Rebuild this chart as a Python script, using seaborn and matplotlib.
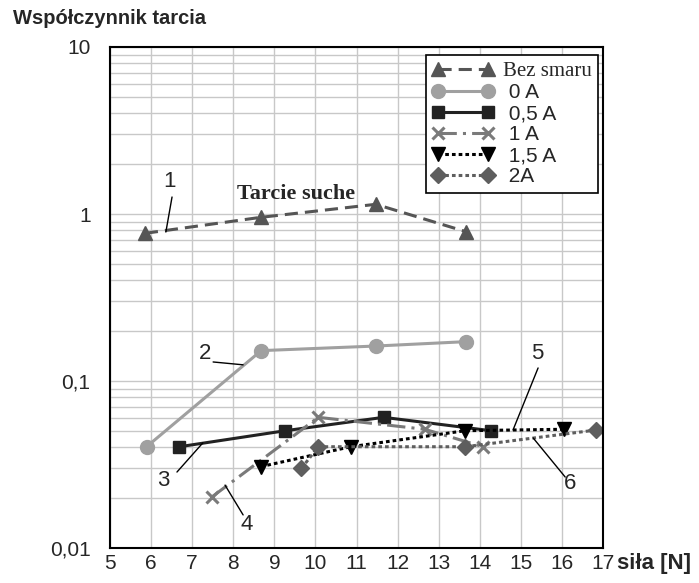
import numpy as np
import pandas as pd
import matplotlib
matplotlib.use("Agg")
import matplotlib.pyplot as plt
import seaborn as sns
from matplotlib.ticker import LogLocator, FixedLocator, FixedFormatter, NullFormatter

# Dane: siła [N] i współczynnik tarcia
sila_bez = [5.85, 8.67, 11.47, 13.67]
wsp_bez = [0.766, 0.955, 1.143, 0.783]

sila_0A = [5.89, 8.68, 11.48, 13.66]
wsp_0A = [0.0404, 0.152, 0.162, 0.172]

sila_05A = [6.69, 9.27, 11.66, 14.27]
wsp_05A = [0.0404, 0.0504, 0.0606, 0.0504]

sila_1A = [7.49, 10.07, 12.66, 14.08]
wsp_1A = [0.0203, 0.0606, 0.0514, 0.0404]

sila_15A = [8.67, 10.86, 13.65, 16.05]
wsp_15A = [0.0307, 0.0404, 0.0504, 0.0514]

sila_2A = [9.66, 10.07, 13.65, 16.84]
wsp_2A = [0.0300, 0.0404, 0.0404, 0.0509]

etykiety = ["Bez smaru", " 0 A", " 0,5 A", " 1 A", " 1,5 A", " 2A"]
y_ticks = [0.01, 0.1, 1, 10]
y_tick_labels = ["0,01", "0,1", "1", "10"]
x_ticks = list(range(5, 18))

# numery krzywych: pozycja tekstu i odcinek wskazujący
numery = ["1", "2", "3", "4", "5", "6"]
num_pos = [(6.46, 1.555), (7.31, 0.147), (6.29, 0.0255), (8.33, 0.01374), (15.39, 0.147), (16.20, 0.0245)]
num_linie = [((6.51, 6.36), (1.264, 0.780)), ((7.51, 8.24), (0.130, 0.125)),
             ((6.63, 7.26), (0.0285, 0.0426)), ((8.24, 7.80), (0.01578, 0.0238)),
             ((15.42, 14.81), (0.1197, 0.0509)), ((16.08, 15.30), (0.0266, 0.0456))]

sns.set_style("white")
plt.rcParams["font.family"] = ["Liberation Sans", "DejaVu Sans"]

style = [
    dict(color="#555555", marker="^", linestyle=(0, (4.3, 2.3)), markersize=10),
    dict(color="#a0a0a0", marker="o", linestyle="-", markersize=10),
    dict(color="#222222", marker="s", linestyle="-", markersize=9),
    dict(color="#7a7a7a", marker="x", linestyle=(0, (6, 2, 1, 2)), markersize=9, markeredgewidth=2.2),
    dict(color="#000000", marker="v", linestyle=(0, (1.2, 1)), markersize=10),
    dict(color="#5e5e5e", marker="D", linestyle=(0, (1.2, 1)), markersize=8),
]
dane = [(sila_bez, wsp_bez), (sila_0A, wsp_0A), (sila_05A, wsp_05A),
        (sila_1A, wsp_1A), (sila_15A, wsp_15A), (sila_2A, wsp_2A)]

fig = plt.figure(figsize=(6.99, 5.83), dpi=100)
ax = fig.add_axes([110 / 699, 1 - 548 / 583, 493 / 699, 501 / 583])

for (xs, ys), lab, st in zip(dane, etykiety, style):
    df = pd.DataFrame({"sila": xs, "wsp": ys})
    kw = dict(st)
    kw.setdefault("markeredgewidth", 1)
    sns.lineplot(data=df, x="sila", y="wsp", ax=ax, label=lab, lw=2.2,
                 markeredgecolor=kw["color"], dash_capstyle="butt", **kw)

ax.set_yscale("log")
ax.set_ylim(0.01, 10)
ax.set_xlim(5, 17)
ax.yaxis.set_major_locator(FixedLocator(y_ticks))
ax.yaxis.set_major_formatter(FixedFormatter(y_tick_labels))
ax.yaxis.set_minor_locator(LogLocator(base=10, subs=np.arange(2, 10)))
ax.yaxis.set_minor_formatter(NullFormatter())
ax.set_xticks(x_ticks)
ax.set_xticklabels([str(v) for v in x_ticks])
ax.grid(which="both", color="#c8c8c8", lw=1)
ax.set_axisbelow(True)
ax.tick_params(axis="both", which="both", length=0, labelsize=15)
ax.tick_params(axis="x", pad=4)
ax.tick_params(axis="y", pad=14)
ax.set_xlabel("")
ax.set_ylabel("")
for s in ax.spines.values():
    s.set_color("black")
    s.set_linewidth(1.5)

leg = ax.legend(loc="upper right", bbox_to_anchor=(0.99, 0.984), borderaxespad=0,
                numpoints=2, handlelength=3.0, handletextpad=0.4, labelspacing=0.1,
                fancybox=False, framealpha=1, edgecolor="black", fontsize=15,
                borderpad=0.3)
leg.get_frame().set_linewidth(1.2)
leg.get_texts()[0].set_family("Liberation Serif")

for n, (tx, ty), (lx, ly) in zip(numery, num_pos, num_linie):
    ax.plot(lx, ly, color="black", lw=1)
    ax.text(tx, ty, n, ha="center", va="center", fontsize=16)

ax.text(9.53, 1.32, "Tarcie suche", ha="center", va="center", fontsize=16,
        fontweight="bold", family="Liberation Serif")

fig.text(13 / 699, 1 - 18 / 583, "Współczynnik tarcia", ha="left", va="center",
         fontsize=14.5, fontweight="bold")
fig.text(617 / 699, 1 - 563 / 583, "siła [N]", ha="left", va="center",
         fontsize=16, fontweight="bold")

fig.savefig("out.png", dpi=100)
